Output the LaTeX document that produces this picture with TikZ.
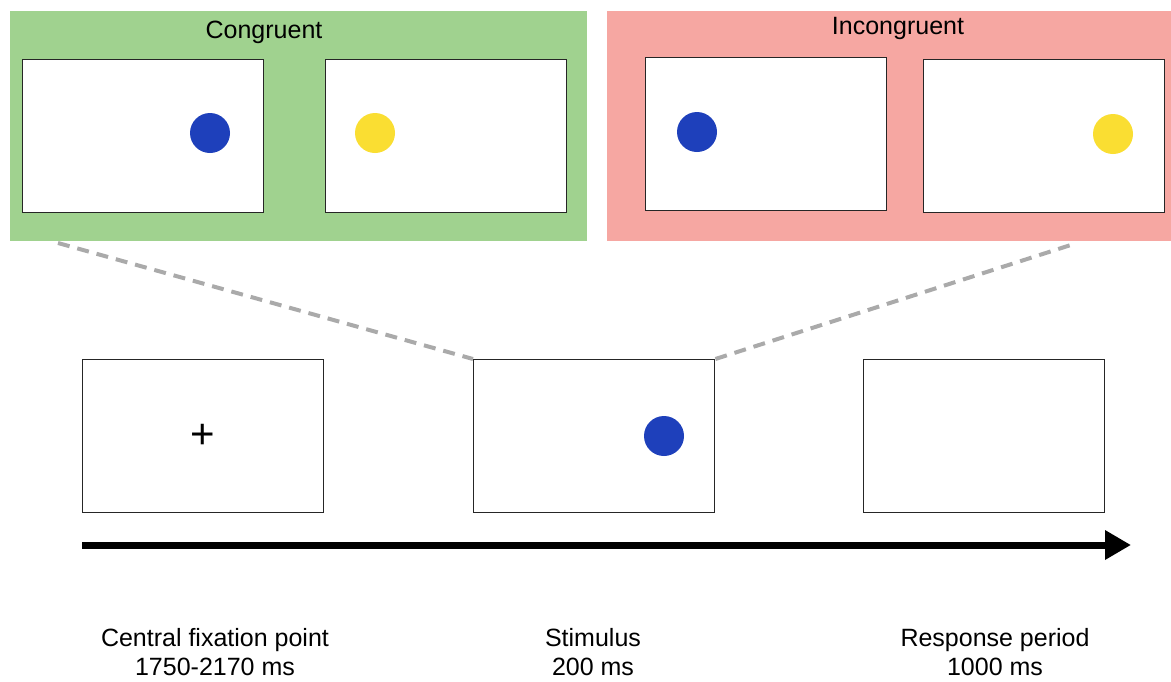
\documentclass[tikz,border=0pt]{standalone}
\usepackage{fontspec}
\setmainfont{Liberation Sans}
\usetikzlibrary{arrows.meta}
\definecolor{congr}{RGB}{160,210,143}
\definecolor{incongr}{RGB}{246,167,162}
\definecolor{dotblue}{RGB}{30,64,187}
\definecolor{dotyellow}{RGB}{250,222,50}
\definecolor{dashgray}{RGB}{170,170,170}
\tikzset{
  panel/.style={draw=none, inner sep=0pt, anchor=north west},
  screen/.style={draw=black!85, line width=1.4pt, fill=white, minimum width=241pt, minimum height=153pt, inner sep=0pt, anchor=north west},
  dot/.style={circle, minimum size=40pt, inner sep=0pt, draw=none},
  lbl/.style={font=\fontsize{25}{29}\selectfont, align=center, inner sep=0pt},
  zoomline/.style={draw=dashgray, line width=4pt, dash pattern=on 12pt off 8pt}
}
\begin{document}
\begin{tikzpicture}[x=1pt,y=-1pt]
\useasboundingbox (0,0) rectangle (1171,681);
% panels
\node[panel, fill=congr, minimum width=577pt, minimum height=230pt] (gp) at (10,11) {};
\node[panel, fill=incongr, minimum width=565pt, minimum height=230pt] (rp) at (607,11) {};
\node[lbl] (gt) at (264,32) {Congruent};
\node[lbl] (rt) at (898,28) {Incongruent};
% congruent screens
\node[screen] (c1) at (22,59) {};
\node[screen] (c2) at (325,59) {};
\node[dot, fill=dotblue] (c1d) at (210,133) {};
\node[dot, fill=dotyellow] (c2d) at (375,133) {};
% incongruent screens
\node[screen] (i1) at (645,57) {};
\node[screen] (i2) at (923,59) {};
\node[dot, fill=dotblue] (i1d) at (697,132) {};
\node[dot, fill=dotyellow] (i2d) at (1113,134) {};
% timeline screens
\node[screen] (s1) at (82,359) {};
\node[screen] (s2) at (473,359) {};
\node[screen] (s3) at (863,359) {};
\node[font=\fontsize{42}{42}\selectfont, inner sep=0pt] (fix) at (s1.center) {+};
\node[dot, fill=dotblue] (s2d) at (664,436) {};
% zoom lines
\coordinate (gz) at (58,243);
\coordinate (rz) at (1077,243);
\draw[zoomline] (gz) -- (s2.north west);
\draw[zoomline] (s2.north east) -- (rz);
% time arrow
\coordinate (ta) at (82,545);
\coordinate (tb) at (1131,545);
\draw[line width=7pt, -{Triangle[length=26pt, width=28pt]}] (ta) -- (tb);
% labels
\node[lbl] (l1) at (215,652) {Central fixation point\\1750-2170 ms};
\node[lbl] (l2) at (593,652) {Stimulus\\200 ms};
\node[lbl] (l3) at (995,652) {Response period\\1000 ms};
\end{tikzpicture}
\end{document}
